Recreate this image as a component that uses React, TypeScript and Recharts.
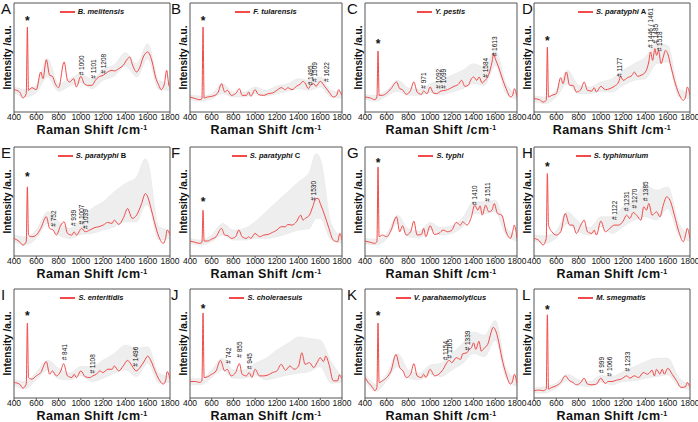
import React from 'react';
import { ComposedChart, Line, Area, XAxis, YAxis, ReferenceDot, ReferenceArea, Label } from 'recharts';

const FONT = "Arial, 'Liberation Sans', Helvetica, sans-serif";
const RED = '#f04a4a';
const X_TICKS = [400, 600, 800, 1000, 1200, 1400, 1600, 1800];

// [wavenumber, intensity]
const SPEC_A = [[400,67],[450,60],[480,42],[510,55],[520,255],[530,65],[560,73],[600,67],[640,120],[660,100],[690,157],[720,110],[745,107],[770,85],[800,73],[850,150],[880,95],[900,90],[935,100],[960,75],[1000,107],[1030,85],[1060,80],[1100,80],[1130,95],[1160,105],[1200,110],[1240,120],[1280,125],[1300,123],[1340,130],[1380,140],[1420,160],[1440,165],[1460,145],[1500,120],[1530,135],[1560,165],[1600,180],[1640,150],[1670,105],[1700,80],[1720,67],[1750,85],[1770,125],[1790,80],[1800,75]];
const SPEC_B = [[400,45],[450,40],[490,37],[510,40],[520,255],[530,42],[560,45],[600,47],[640,52],[660,60],[690,85],[720,60],[745,65],[780,50],[820,55],[855,70],[880,50],[920,50],[940,60],[960,47],[1000,67],[1030,52],[1080,50],[1120,55],[1160,57],[1200,65],[1240,73],[1280,67],[1300,73],[1340,67],[1380,77],[1420,85],[1440,92],[1460,87],[1490,70],[1510,80],[1540,85],[1560,77],[1600,92],[1640,77],[1680,60],[1720,45],[1750,50],[1770,67],[1790,55],[1800,50]];
const SPEC_C = [[400,45],[450,42],[490,37],[510,45],[520,183],[530,50],[560,50],[600,57],[640,70],[690,90],[720,70],[745,67],[780,53],[820,65],[850,90],[880,60],[920,53],[940,63],[971,55],[1000,75],[1030,57],[1060,55],[1100,63],[1140,65],[1180,70],[1220,77],[1260,83],[1290,95],[1320,77],[1350,80],[1380,100],[1400,105],[1430,95],[1450,105],[1480,87],[1500,93],[1540,113],[1570,150],[1585,175],[1600,160],[1630,135],[1660,105],[1700,70],[1740,45],[1760,50],[1775,70],[1800,45]];
const SPEC_D = [[400,40],[450,37],[480,30],[510,35],[520,195],[530,45],[560,50],[600,55],[640,103],[660,85],[690,120],[720,80],[750,80],[780,60],[820,67],[850,90],[880,65],[920,63],[940,73],[960,60],[1000,77],[1040,67],[1080,70],[1120,77],[1160,90],[1177,107],[1200,95],[1240,103],[1280,110],[1300,120],[1330,107],[1360,110],[1400,120],[1430,150],[1446,180],[1465,155],[1485,190],[1500,170],[1518,185],[1540,145],[1560,165],[1580,185],[1600,175],[1630,135],[1660,95],[1700,55],[1740,35],[1760,45],[1775,75],[1800,50]];
const SPEC_E = [[400,30],[450,20],[480,10],[510,20],[520,185],[530,40],[560,35],[600,40],[640,60],[690,95],[720,60],[752,55],[780,40],[820,70],[850,80],[880,45],[920,40],[939,50],[960,40],[1007,60],[1039,50],[1080,55],[1120,62],[1160,65],[1200,70],[1240,78],[1280,75],[1300,85],[1340,72],[1380,90],[1420,120],[1440,105],[1460,90],[1500,100],[1540,130],[1580,165],[1600,155],[1630,120],[1660,80],[1700,35],[1740,15],[1760,30],[1775,55],[1800,40]];
const SPEC_F = [[400,22],[450,18],[490,15],[510,18],[520,115],[530,22],[560,22],[600,28],[640,35],[690,60],[720,40],[750,38],[780,30],[820,35],[850,55],[880,35],[920,30],[940,35],[960,30],[1000,45],[1040,35],[1080,40],[1120,42],[1160,48],[1200,55],[1240,65],[1280,65],[1300,72],[1340,70],[1380,80],[1420,100],[1440,85],[1460,90],[1500,100],[1530,125],[1560,150],[1580,150],[1600,135],[1640,100],[1680,60],[1720,25],[1760,20],[1780,45],[1800,25]];
const SPEC_G = [[400,22],[450,18],[490,15],[510,20],[520,245],[530,35],[560,40],[600,35],[640,55],[690,95],[720,50],[745,68],[780,40],[820,50],[850,82],[880,40],[920,42],[940,60],[960,35],[1000,68],[1040,42],[1080,45],[1120,55],[1160,50],[1200,55],[1240,78],[1280,70],[1300,80],[1340,70],[1380,95],[1410,130],[1440,115],[1460,128],[1480,100],[1511,130],[1540,110],[1570,115],[1590,135],[1620,105],[1660,100],[1700,50],[1740,30],[1760,50],[1775,70],[1800,30]];
const SPEC_H = [[400,30],[450,22],[480,10],[510,30],[520,225],[530,70],[560,50],[600,40],[640,50],[680,105],[720,70],[750,70],[780,45],[820,70],[850,85],[880,50],[920,45],[940,55],[960,40],[1000,82],[1040,50],[1080,60],[1122,70],[1160,70],[1200,82],[1231,100],[1260,90],[1290,108],[1320,100],[1360,85],[1385,125],[1410,115],[1430,135],[1460,100],[1500,110],[1530,95],[1560,130],[1590,155],[1620,145],[1660,100],[1700,50],[1740,20],[1760,40],[1775,60],[1800,30]];
const SPEC_I = [[400,47],[450,42],[480,30],[510,42],[520,227],[530,62],[560,57],[600,67],[640,77],[690,110],[720,72],[745,82],[780,67],[820,82],[845,104],[880,67],[920,62],[940,72],[960,62],[1000,82],[1040,64],[1080,62],[1108,67],[1140,72],[1170,82],[1200,77],[1240,87],[1280,87],[1300,97],[1340,82],[1380,97],[1420,114],[1440,107],[1460,97],[1496,82],[1530,92],[1570,112],[1600,127],[1630,112],[1660,87],[1700,57],[1740,42],[1760,52],[1775,80],[1800,57]];
const SPEC_J = [[400,50],[450,50],[490,47],[510,52],[520,257],[530,62],[560,64],[600,72],[640,82],[680,114],[720,82],[742,87],[780,67],[820,77],[855,104],[880,72],[920,67],[945,77],[970,62],[1000,87],[1040,67],[1080,67],[1120,70],[1160,77],[1200,82],[1240,102],[1280,84],[1320,97],[1360,87],[1400,97],[1430,137],[1460,102],[1500,107],[1540,92],[1570,107],[1600,122],[1630,110],[1650,127],[1680,102],[1720,52],[1760,52],[1775,70],[1800,57]];
const SPEC_K = [[400,62],[430,47],[470,32],[490,22],[510,32],[520,227],[530,47],[560,52],[600,62],[640,82],[685,132],[720,92],[750,82],[780,62],[820,72],[850,104],[880,67],[920,62],[940,72],[960,62],[1000,87],[1040,67],[1080,72],[1120,87],[1154,107],[1175,114],[1200,107],[1240,122],[1280,117],[1300,134],[1339,137],[1360,147],[1380,152],[1400,167],[1420,147],[1450,172],[1470,142],[1500,152],[1530,162],[1560,197],[1580,214],[1600,207],[1630,172],[1660,122],[1700,72],[1740,42],[1760,52],[1775,72],[1800,44]];
const SPEC_L = [[400,22],[450,24],[480,22],[510,27],[520,252],[530,27],[560,32],[600,37],[640,47],[680,67],[720,52],[750,47],[780,40],[820,47],[850,60],[880,42],[920,40],[960,42],[999,60],[1040,44],[1066,50],[1100,50],[1140,54],[1180,57],[1233,67],[1260,60],[1300,67],[1340,62],[1380,77],[1420,72],[1460,84],[1480,67],[1500,87],[1530,72],[1550,87],[1570,72],[1600,90],[1640,72],[1680,52],[1720,32],[1760,34],[1775,47],[1800,32]];

// [wavenumber, lower, upper] of the grey spread band
const BAND_A = [[400,58,75],[500,45,68],[600,58,80],[700,105,160],[800,62,85],[900,78,100],[1000,88,115],[1100,70,98],[1200,95,128],[1300,108,142],[1400,138,178],[1500,105,145],[1600,160,205],[1700,68,95],[1800,65,85]];
const BAND_B = [[400,38,52],[500,32,48],[600,40,55],[700,55,85],[800,45,60],[900,45,60],[1000,55,75],[1100,48,65],[1200,55,78],[1300,62,85],[1400,70,100],[1500,65,95],[1600,75,105],[1700,45,65],[1800,42,58]];
const BAND_C = [[400,38,52],[500,32,50],[600,48,65],[700,62,95],[800,50,72],[900,50,68],[1000,58,85],[1100,52,95],[1200,60,110],[1300,70,125],[1400,85,145],[1500,80,135],[1600,140,185],[1700,55,85],[1800,38,55]];
const BAND_D = [[400,32,48],[500,25,45],[600,45,65],[700,85,125],[800,55,80],[900,55,75],[1000,62,90],[1100,60,100],[1200,80,125],[1300,95,145],[1400,100,165],[1500,145,205],[1600,150,200],[1700,45,70],[1800,40,58]];
const BAND_E = [[400,20,40],[500,10,35],[600,30,55],[700,75,110],[800,40,80],[900,30,60],[1000,42,85],[1100,45,120],[1200,55,140],[1300,65,170],[1400,80,195],[1500,80,215],[1580,130,270],[1600,130,260],[1700,25,65],[1800,30,55]];
const BAND_F = [[400,15,30],[500,10,25],[600,20,40],[700,40,75],[800,25,55],[900,25,60],[1000,30,80],[1100,30,110],[1200,35,140],[1300,45,170],[1400,55,200],[1500,60,230],[1560,90,285],[1600,90,270],[1700,25,75],[1800,15,35]];
const BAND_G = [[400,14,30],[500,10,28],[600,28,45],[700,75,100],[800,35,58],[900,32,52],[1000,55,78],[1100,40,62],[1200,45,68],[1300,65,92],[1400,105,140],[1500,105,140],[1600,110,145],[1700,40,62],[1800,22,40]];
const BAND_H = [[400,22,40],[500,15,38],[600,32,52],[700,75,110],[800,50,80],[900,40,62],[1000,65,95],[1100,45,95],[1200,65,125],[1300,85,150],[1400,95,190],[1500,85,175],[1600,120,185],[1700,40,75],[1800,22,40]];
const BAND_I = [[400,38,55],[500,28,50],[600,55,78],[700,85,115],[800,58,90],[900,55,75],[1000,68,95],[1100,50,95],[1200,60,115],[1300,75,135],[1400,85,160],[1500,65,150],[1600,105,155],[1700,45,75],[1800,48,65]];
const BAND_J = [[400,42,58],[500,40,58],[600,62,85],[700,85,120],[800,60,85],[900,60,85],[1000,70,105],[1100,55,120],[1200,62,145],[1300,70,165],[1400,75,185],[1500,80,180],[1600,95,175],[1700,45,110],[1800,48,65]];
const BAND_K = [[400,52,72],[500,20,42],[600,52,72],[700,95,135],[800,60,85],[900,55,75],[1000,72,100],[1100,65,105],[1200,85,135],[1300,105,165],[1400,135,200],[1500,125,190],[1600,175,235],[1700,60,90],[1800,35,55]];
const BAND_L = [[400,15,30],[500,15,35],[600,30,45],[700,52,72],[800,38,55],[900,35,50],[1000,48,68],[1100,40,65],[1200,50,80],[1300,52,95],[1400,60,110],[1500,65,120],[1600,70,120],[1700,35,62],[1800,25,40]];

// [wavenumber, intensity, text]
const NOTES_A = [[520,280,'*'],[1007,110,'# 1000'],[1112,100,'# 1101'],[1201,115,'# 1208']];
const NOTES_B = [[520,280,'*'],[1508,80,'# 1495'],[1551,90,'# 1509'],[1656,90,'# 1622']];
const NOTES_C = [[520,210,'*'],[938,70,'# 971'],[1083,70,'# 1092'],[1126,70,'# 1099'],[1508,103,'# 1584'],[1597,167,'# 1613']];
const NOTES_D = [[520,220,'*'],[1172,105,'# 1177'],[1450,192,'# 1446 / 1461'],[1489,205,'# 1485'],[1528,182,'# 1518']];
const NOTES_E = [[520,220,'*'],[753,65,'# 752'],[938,67,'# 939'],[1007,72,'# 1007'],[1046,58,'# 1039']];
const NOTES_F = [[520,145,'*'],[1538,143,'# 1530']];
const NOTES_G = [[520,262,'*'],[1409,130,'# 1410'],[1532,140,'# 1511']];
const NOTES_H = [[520,252,'*'],[1127,85,'# 1122'],[1232,112,'# 1231'],[1300,120,'# 1270'],[1399,142,'# 1385']];
const NOTES_I = [[520,254,'*'],[858,114,'# 841'],[1106,74,'# 1108'],[1495,95,'# 1496']];
const NOTES_J = [[520,277,'*'],[754,104,'# 742'],[862,122,'# 855'],[948,87,'# 945']];
const NOTES_K = [[520,254,'*'],[1145,114,'# 1154'],[1178,120,'# 1165'],[1348,144,'# 1339']];
const NOTES_L = [[520,272,'*'],[1007,75,'# 999'],[1076,65,'# 1066'],[1237,80,'# 1233']];

const LETTERS = ['A','B','C','D','E','F','G','H','I','J','K','L'];
const NAMES = ['B. melitensis','F. tularensis','Y. pestis','S. paratyphi','S. paratyphi','S. paratyphi','S. typhi','S. typhimurium','S. enteritidis','S. choleraesuis','V. parahaemolyticus','M. smegmatis'];
const NAME_SUFFIX = ['','','',' A',' B',' C','','','','','',''];
const X_TITLES = ['Raman Shift /cm','Raman Shift /cm','Raman Shift /cm','Ramans Shift /cm','Raman Shift /cm','Raman Shift /cm','Raman Shift /cm','Raman Shift /cm','Raman Shift /cm','Raman Shift /cm','Raman Shift /cm','Raman Shift /cm'];
const SPECS = [SPEC_A,SPEC_B,SPEC_C,SPEC_D,SPEC_E,SPEC_F,SPEC_G,SPEC_H,SPEC_I,SPEC_J,SPEC_K,SPEC_L];
const BANDS = [BAND_A,BAND_B,BAND_C,BAND_D,BAND_E,BAND_F,BAND_G,BAND_H,BAND_I,BAND_J,BAND_K,BAND_L];
const NOTES = [NOTES_A,NOTES_B,NOTES_C,NOTES_D,NOTES_E,NOTES_F,NOTES_G,NOTES_H,NOTES_I,NOTES_J,NOTES_K,NOTES_L];
const ROW_DOMAINS = [[0,327],[-23,305],[0,330]];

// layout
const COLS = [{ l: 14, r: 170 }, { l: 190, r: 342 }, { l: 365, r: 517 }, { l: 534, r: 690 }];
const ROWS = [{ t: 3, b: 112 }, { t: 147, b: 256 }, { t: 289, b: 398 }];
const LETTER_X = [1, 171, 347, 522];
const YW = 14, MT = 2, MR = 10, XH = 28;

function Panel({ i }: { i: number }) {
  const col = COLS[i % 4];
  const row = ROWS[Math.floor(i / 4)];
  const dom = ROW_DOMAINS[Math.floor(i / 4)];
  const pw = col.r - col.l;
  const ph = row.b - row.t;
  const W = pw + YW + MR;
  const H = ph + MT + XH;
  const lineData = SPECS[i].map(([x, y]) => ({ x, y }));
  const bandData = BANDS[i].map(([x, lo, hi]) => ({ x, r: [lo, hi] }));
  const title = X_TITLES[i];

  const xLabel = (props: any) => {
    const vb = props.viewBox;
    return (
      <text x={vb.x + vb.width / 2} y={vb.y + 22} textAnchor="middle" fontFamily={FONT} fontWeight="bold" fontSize={12.5} letterSpacing={0.4} fill="#111">
        {title}
        <tspan dy={-4} fontSize={7}>-1</tspan>
      </text>
    );
  };
  const yLabel = (props: any) => {
    const vb = props.viewBox;
    const cx = vb.x + vb.width - 7;
    const cy = vb.y + vb.height / 2;
    return (
      <text x={cx} y={cy} transform={`rotate(-90 ${cx} ${cy})`} textAnchor="middle" dominantBaseline="central" fontFamily={FONT} fontWeight="bold" fontSize={10} fill="#111">
        Intensity /a.u.
      </text>
    );
  };

  return (
    <div style={{ position: 'absolute', left: col.l - YW, top: row.t - MT, width: W, height: H }}>
      <ComposedChart width={W} height={H} margin={{ top: MT, right: MR, bottom: 0, left: 0 }} style={{ overflow: 'visible' }}>
        <XAxis type="number" dataKey="x" domain={[400, 1800]} ticks={X_TICKS} allowDataOverflow height={XH}
          axisLine={false} tickSize={2} tickMargin={0} stroke="#555"
          tick={{ fontSize: 8.5, fill: '#111', fontFamily: FONT }} interval={0}>
          <Label content={xLabel} />
        </XAxis>
        <YAxis type="number" domain={dom} allowDataOverflow width={YW} tick={false} tickLine={false} axisLine={false}>
          <Label content={yLabel} />
        </YAxis>
        <Area data={bandData} dataKey="r" type="monotone" stroke="#e2e2e2" strokeWidth={0.5} fill="#ececec" fillOpacity={0.9} isAnimationActive={false} />
        <Line data={lineData} dataKey="y" type="monotone" stroke={RED} strokeWidth={1} dot={false} isAnimationActive={false} />
        <ReferenceArea x1={400} x2={1800} y1={dom[0]} y2={dom[1]} fill="none" stroke="#555" strokeWidth={1} ifOverflow="visible" />
        {NOTES[i].map(([x, y, t], k) => (
          <ReferenceDot key={k} x={x as number} y={y as number} r={0} ifOverflow="visible"
            shape={(p: any) => t === '*' ? (
              <text x={p.cx} y={p.cy + 6} textAnchor="middle" fontFamily={FONT} fontWeight="bold" fontSize={12} fill="#111">*</text>
            ) : (
              <text x={p.cx} y={p.cy} transform={`rotate(-90 ${p.cx} ${p.cy})`} dy="0.35em" textAnchor="start" fontFamily={FONT} fontSize={6.5} fill="#111">{t}</text>
            )} />
        ))}
      </ComposedChart>
    </div>
  );
}

function Overlay({ i }: { i: number }) {
  const col = COLS[i % 4];
  const row = ROWS[Math.floor(i / 4)];
  const cx = (col.l + col.r) / 2;
  return (
    <>
      <div style={{ position: 'absolute', left: LETTER_X[i % 4], top: row.t - 2, fontFamily: FONT, fontSize: 15, lineHeight: '15px', color: '#111' }}>
        {LETTERS[i]}
      </div>
      <div style={{ position: 'absolute', left: cx - 60, width: 120, top: row.t + 4, height: 9, display: 'flex', justifyContent: 'center', alignItems: 'center', fontFamily: FONT, fontSize: 7.5, fontWeight: 'bold', color: '#111', whiteSpace: 'nowrap' }}>
        <div style={{ width: 15, height: 2, background: RED, marginRight: 3 }} />
        <span><i>{NAMES[i]}</i>{NAME_SUFFIX[i]}</span>
      </div>
    </>
  );
}

export default function App() {
  const idx = [0, 1, 2, 3, 4, 5, 6, 7, 8, 9, 10, 11];
  return (
    <div style={{ position: 'fixed', left: 0, top: 0, width: 698, height: 422, background: '#fff', overflow: 'hidden' }}>
      {idx.map((i) => <Panel key={i} i={i} />)}
      {idx.map((i) => <Overlay key={'o' + i} i={i} />)}
    </div>
  );
}
